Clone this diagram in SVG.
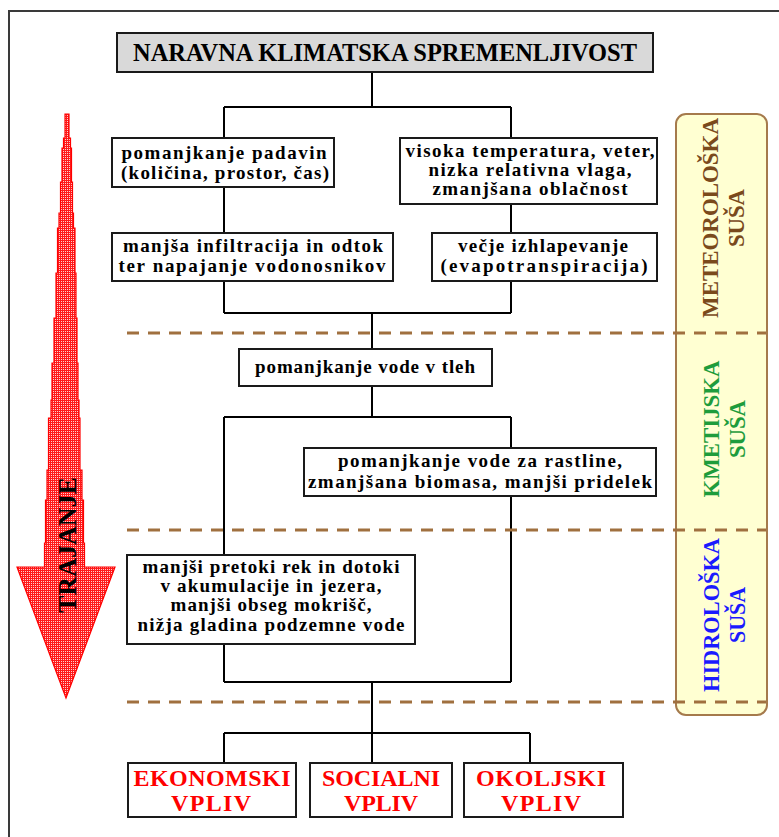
<svg xmlns="http://www.w3.org/2000/svg" width="779" height="837" viewBox="0 0 779 837">
<style>
.t{font-family:"Liberation Serif","Times New Roman",serif;font-weight:bold;font-size:19px;fill:#000;text-anchor:middle}
.box{fill:#fff;stroke:#1a1a1a;stroke-width:2}
.con{fill:none;stroke:#000;stroke-width:2}
.dash{fill:none;stroke:#a0703f;stroke-width:3;stroke-dasharray:12 9}
.red{fill:#ff0000;font-size:24px}
.side{font-size:23px}
</style>
<defs>
<pattern id="dither" width="2" height="2" patternUnits="userSpaceOnUse">
<rect width="2" height="2" fill="#ff1a1a"/>
<rect x="1" y="1" width="1" height="1" fill="#ffd0d0"/>
</pattern>
</defs>
<rect width="779" height="837" fill="#fff"/>
<path d="M9,837 V11 H779" fill="none" stroke="#3a3a3a" stroke-width="2"/>

<g id="trajanje">
<polygon fill="url(#dither)" stroke="#ff0000" stroke-width="1.2" points="65,114 69,114 69,138 70.5,138 70.5,148 71.5,148 71.5,182 72.5,182 72.5,213 73.5,213 73.5,228 75,228 75,273 76,273 76,318 77,318 77,363 78,363 78,400 79,400 79,418 80,418 80,470 82,470 82,500 83.5,500 83.5,543 84.5,543 84.5,567 115,567 66,698 17,567 44.5,567 44.5,543 45.5,543 45.5,500 47,500 47,470 48.5,470 48.5,418 51,418 51,400 52,400 52,363 54,363 54,318 56,318 56,273 57.5,273 57.5,228 59,228 59,213 60.5,213 60.5,182 62,182 62,148 63.5,148 63.5,138 65,138"/>
<text class="t" style="font-size:25px" transform="translate(67,545) rotate(-90)" x="0" y="8.5" textLength="136" lengthAdjust="spacingAndGlyphs">TRAJANJE</text>
</g>

<g id="faze">
<rect x="676" y="114" width="91" height="601" rx="10" fill="#ffffd2" stroke="#a57a4c" stroke-width="2"/>
<g transform="translate(723,218) rotate(-90)">
<text class="t side" x="0" y="-5.5" style="fill:#7a4a1c" textLength="200" lengthAdjust="spacingAndGlyphs">METEOROLOŠKA</text>
<text class="t side" x="0" y="21" style="fill:#7a4a1c" textLength="58" lengthAdjust="spacingAndGlyphs">SUŠA</text>
</g>
<g transform="translate(724,429) rotate(-90)">
<text class="t side" x="0" y="-5.5" style="fill:#1e9c3c" textLength="137" lengthAdjust="spacingAndGlyphs">KMETIJSKA</text>
<text class="t side" x="0" y="21" style="fill:#1e9c3c" textLength="58" lengthAdjust="spacingAndGlyphs">SUŠA</text>
</g>
<g transform="translate(724,615) rotate(-90)">
<text class="t side" x="0" y="-5.5" style="fill:#1a1aff" textLength="154" lengthAdjust="spacingAndGlyphs">HIDROLOŠKA</text>
<text class="t side" x="0" y="21" style="fill:#1a1aff" textLength="56" lengthAdjust="spacingAndGlyphs">SUŠA</text>
</g>
</g>

<g id="connectors">
<path class="con" d="M372,72 V107 M224,107 H511 M224,107 V138 M511,107 V138"/>
<path class="con" d="M224,187 V233 M511,204 V233"/>
<path class="con" d="M224,281 V313 M511,281 V313 M224,313 H511 M372,313 V349"/>
<path class="con" d="M372,386 V417 M224,417 H511 M511,417 V448 M224,417 V555"/>
<path class="con" d="M511,496 V682 M224,644 V682 M224,682 H511"/>
<path class="con" d="M372,682 V763 M224,733 H530 M224,733 V763 M530,733 V763"/>
</g>

<g id="separators">
<path class="dash" d="M127,333 H766"/>
<path class="dash" d="M127,530 H766"/>
<path class="dash" d="M127,702 H766"/>
</g>

<g id="naravna">
<rect x="117" y="33" width="536" height="39" fill="#d9d9d9" stroke="#1a1a1a" stroke-width="2"/>
<text class="t" style="font-size:25px" x="385" y="61" textLength="504" lengthAdjust="spacingAndGlyphs">NARAVNA KLIMATSKA SPREMENLJIVOST</text>
</g>

<g id="padavine">
<rect class="box" x="112" y="138" width="222" height="49"/>
<text class="t" x="224" y="159" textLength="205" lengthAdjust="spacing">pomanjkanje padavin</text>
<text class="t" x="225" y="179" textLength="208" lengthAdjust="spacing">(količina, prostor, čas)</text>
</g>

<g id="temperatura">
<rect class="box" x="400" y="138" width="257" height="66"/>
<text class="t" x="530" y="157" textLength="249" lengthAdjust="spacing">visoka temperatura, veter,</text>
<text class="t" x="530" y="176" textLength="203" lengthAdjust="spacing">nizka relativna vlaga,</text>
<text class="t" x="530" y="195" textLength="195" lengthAdjust="spacing">zmanjšana oblačnost</text>
</g>

<g id="infiltracija">
<rect class="box" x="112" y="233" width="281" height="48"/>
<text class="t" x="253" y="252" textLength="260" lengthAdjust="spacing">manjša infiltracija in odtok</text>
<text class="t" x="252" y="272" textLength="267" lengthAdjust="spacing">ter napajanje vodonosnikov</text>
</g>

<g id="izhlapevanje">
<rect class="box" x="432" y="233" width="225" height="48"/>
<text class="t" x="543" y="252" textLength="170" lengthAdjust="spacing">večje izhlapevanje</text>
<text class="t" x="544" y="272" textLength="207" lengthAdjust="spacing">(evapotranspiracija)</text>
</g>

<g id="tla">
<rect class="box" x="239" y="349" width="253" height="37"/>
<text class="t" x="365" y="373" textLength="220" lengthAdjust="spacing">pomanjkanje vode v tleh</text>
</g>

<g id="rastline">
<rect class="box" x="304" y="448" width="352" height="48"/>
<text class="t" x="480" y="467" textLength="284" lengthAdjust="spacing">pomanjkanje vode za rastline,</text>
<text class="t" x="480" y="488" textLength="344" lengthAdjust="spacing">zmanjšana biomasa, manjši pridelek</text>
</g>

<g id="pretoki">
<rect class="box" x="127" y="555" width="288" height="89"/>
<text class="t" x="271" y="573" textLength="257" lengthAdjust="spacing">manjši pretoki rek in dotoki</text>
<text class="t" x="271" y="592" textLength="221" lengthAdjust="spacing">v akumulacije in jezera,</text>
<text class="t" x="271" y="611" textLength="201" lengthAdjust="spacing">manjši obseg mokrišč,</text>
<text class="t" x="271" y="631" textLength="267" lengthAdjust="spacing">nižja gladina podzemne vode</text>
</g>

<g id="ekonomski">
<rect class="box" x="128" y="763" width="168" height="54"/>
<text class="t red" x="212" y="786" textLength="157" lengthAdjust="spacing">EKONOMSKI</text>
<text class="t red" x="211" y="811" textLength="80" lengthAdjust="spacing">VPLIV</text>
</g>

<g id="socialni">
<rect class="box" x="310" y="763" width="142" height="54"/>
<text class="t red" x="381" y="786" textLength="118" lengthAdjust="spacing">SOCIALNI</text>
<text class="t red" x="381" y="811" textLength="74" lengthAdjust="spacing">VPLIV</text>
</g>

<g id="okoljski">
<rect class="box" x="464" y="763" width="159" height="54"/>
<text class="t red" x="541" y="786" textLength="130" lengthAdjust="spacing">OKOLJSKI</text>
<text class="t red" x="541" y="811" textLength="80" lengthAdjust="spacing">VPLIV</text>
</g>
</svg>
